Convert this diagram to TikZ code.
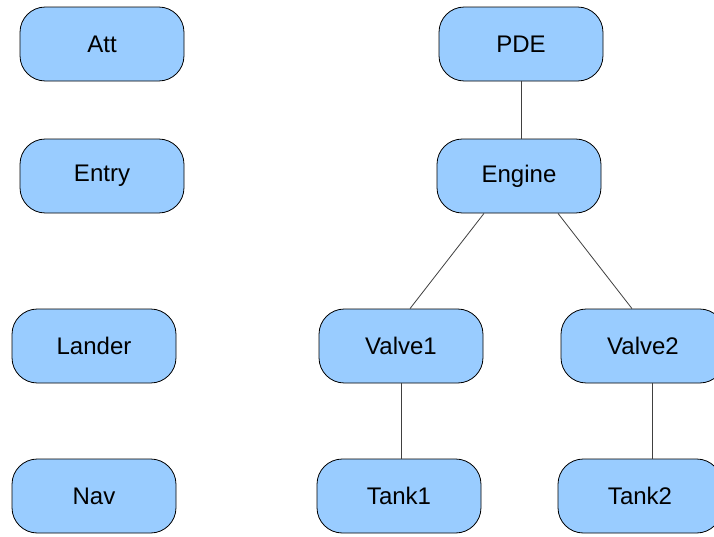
\documentclass[tikz,border=0pt]{standalone}
\usepackage{fontspec}
\setmainfont{Liberation Sans}
\definecolor{boxblue}{HTML}{99CCFF}
\begin{document}
\begin{tikzpicture}[x=0.75pt,y=-0.75pt,
  box/.style={draw=black, line width=0.6pt, fill=boxblue, rounded corners=19pt,
    minimum width=123pt, minimum height=55.5pt, inner sep=0pt, font=\fontsize{18}{21}\selectfont},
  link/.style={draw=black!75, line width=0.6pt}]
\useasboundingbox (0,0) rectangle (714,536);
\clip (0,0) rectangle (714,536);
\fill[white] (0,0) rectangle (714,536);
\node[box] (att) at (102,44) {Att};
\node[box] (entry) at (102,176) {Entry};
\node[box] (lander) at (94,346) {Lander};
\node[box] (nav) at (94,496) {Nav};
\node[box] (pde) at (521,44) {PDE};
\node[box] (engine) at (519,176) {Engine};
\node[box] (valve1) at (401,346) {Valve1};
\node[box] (valve2) at (643,346) {Valve2};
\node[box] (tank1) at (399,496) {Tank1};
\node[box] (tank2) at (640,496) {Tank2};
\draw[link] (pde.south) -- (pde.south |- engine.north);
\draw[link] ([xshift=-26.25pt]engine.south) -- ([xshift=6.75pt]valve1.north);
\draw[link] ([xshift=29.25pt]engine.south) -- ([xshift=-8.25pt]valve2.north);
\draw[link] (valve1.south) -- (valve1.south |- tank1.north);
\draw[link] ([xshift=6.75pt]valve2.south) -- ([xshift=6.75pt]valve2.south |- tank2.north);
\end{tikzpicture}
\end{document}
